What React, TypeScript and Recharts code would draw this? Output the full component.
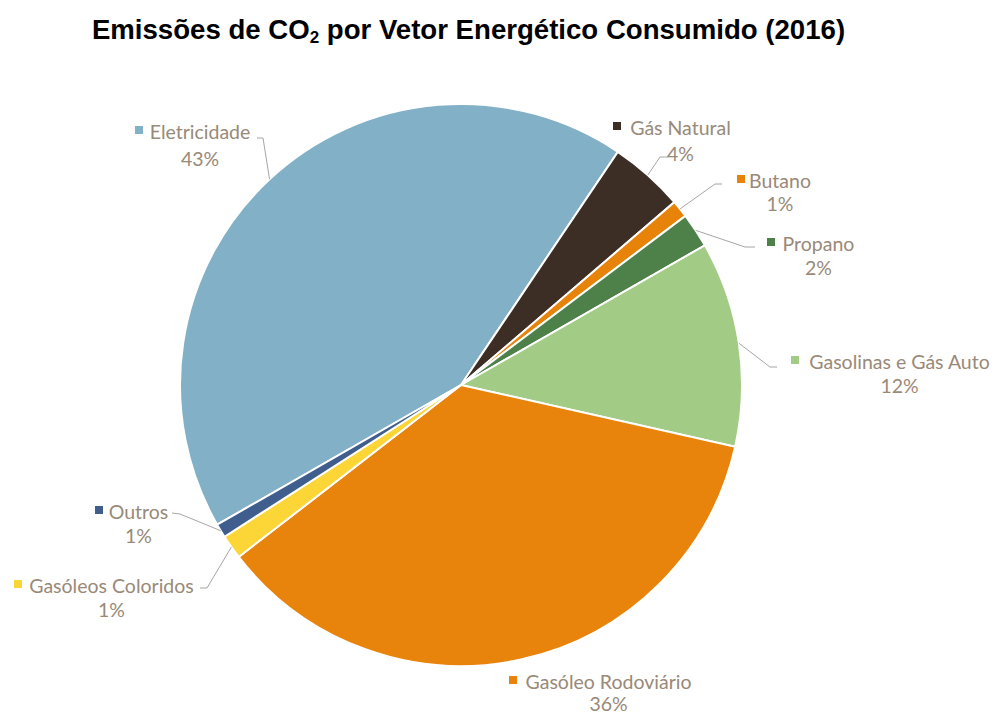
import { PieChart, Pie, Cell } from "recharts";

const categories = [
  "Eletricidade",
  "Gás Natural",
  "Butano",
  "Propano",
  "Gasolinas e Gás Auto",
  "Gasóleo Rodoviário",
  "Gasóleos Coloridos",
  "Outros",
];
const shares = [42.7, 4.3, 1.0, 2.0, 11.8, 36.0, 1.4, 0.8];
const colors = ["#82B0C6", "#3D2E25", "#E8830A", "#4E8149", "#A2CC85", "#E8830B", "#FCD537", "#3F5E8D"];

const W = 995;
const H = 713;
const CX = 461;
const CY = 385;
const R = 281;
const LABEL_COLOR = "#998978";

// label layout, relative to pie centre: name left/right, name line y, percent line y, leader start + elbow
const labelLayout = [
  { l: -311, r: -211, y: -254, py: -227, line: [[-204, -247], [-198, -247]] },
  { l: 167, r: 272, y: -258, py: -232, line: [[207, -228], [199, -228]] },
  { l: 291, r: 347, y: -205, py: -182, line: [[261, -201], [254, -201]] },
  { l: 321, r: 394, y: -142, py: -118, line: [[294, -138], [284, -138]] },
  { l: 345, r: 532, y: -24, py: 0, line: [[316, -18], [309, -18]] },
  { l: 63, r: 232, y: 296, py: 318, line: null },
  { l: -432, r: -267, y: 200, py: 224, line: [[-261, 203], [-254, 203]] },
  { l: -351, r: -294, y: 126, py: 150, line: [[-289, 128], [-281, 129]] },
];

const data = categories.map((name, i) => ({ name, value: shares[i] }));

const RAD = Math.PI / 180;

function renderLabel(props: any) {
  const { cx, cy, midAngle, outerRadius, percent, index } = props;
  const lay = labelLayout[index];
  const nameX = cx + (lay.l + lay.r) / 2;
  const ex = cx + outerRadius * Math.cos(-midAngle * RAD);
  const ey = cy + outerRadius * Math.sin(-midAngle * RAD);
  return (
    <g key={`lbl-${index}`}>
      {lay.line && (
        <polyline
          points={`${cx + lay.line[0][0]},${cy + lay.line[0][1]} ${cx + lay.line[1][0]},${cy + lay.line[1][1]} ${ex},${ey}`}
          fill="none"
          stroke="#A6A6A6"
          strokeWidth={1}
        />
      )}
      <rect x={cx + lay.l - 15} y={cy + lay.y - 5} width={8} height={8} fill={colors[index]} />
      <text
        x={nameX}
        y={cy + lay.y}
        textAnchor="middle"
        dominantBaseline="central"
        fill={LABEL_COLOR}
        fontSize={19.5}
        fontFamily="Lato, sans-serif"
      >
        {categories[index]}
      </text>
      <text
        x={nameX}
        y={cy + lay.py}
        textAnchor="middle"
        dominantBaseline="central"
        fill={LABEL_COLOR}
        fontSize={19.5}
        fontFamily="Lato, sans-serif"
      >
        {`${Math.round(percent * 100)}%`}
      </text>
    </g>
  );
}

export default function App() {
  return (
    <div style={{ position: "absolute", left: 0, top: 0, width: W, height: H, background: "#fff" }}>
      <div
        style={{
          position: "absolute",
          left: 0,
          top: 14,
          width: 937,
          textAlign: "center",
          fontFamily: "'Liberation Sans', Arial, sans-serif",
          fontWeight: "bold",
          fontSize: 27.6,
          color: "#000",
          lineHeight: "32px",
        }}
      >
        Emissões de CO<sub style={{ fontSize: 17, verticalAlign: "-4px", lineHeight: 0 }}>2</sub> por Vetor Energético
        Consumido (2016)
      </div>
      <PieChart
        width={W}
        height={H}
        margin={{ top: 0, right: 0, bottom: 0, left: 0 }}
        style={{ position: "absolute", left: 0, top: 0 }}
      >
        <Pie
          data={data}
          dataKey="value"
          nameKey="name"
          cx={CX}
          cy={CY}
          outerRadius={R}
          startAngle={-150.2}
          endAngle={-510.2}
          stroke="#FFFFFF"
          strokeWidth={2}
          label={renderLabel}
          labelLine={false}
          isAnimationActive={false}
        >
          {data.map((entry, i) => (
            <Cell key={`cell-${i}`} fill={colors[i]} />
          ))}
        </Pie>
      </PieChart>
    </div>
  );
}
